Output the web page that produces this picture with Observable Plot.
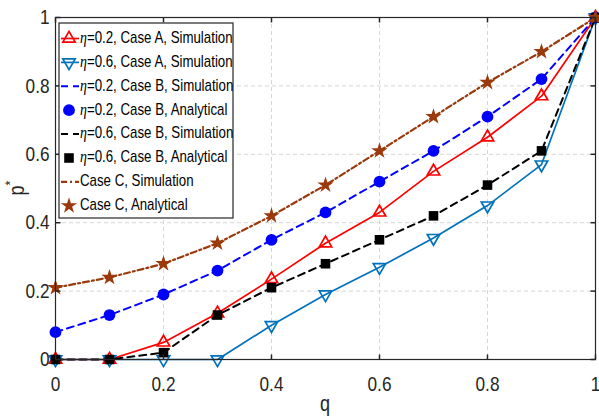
<!DOCTYPE html>
<html><head><meta charset="utf-8">
<script src="https://cdn.jsdelivr.net/npm/d3@7"></script>
<script src="https://cdn.jsdelivr.net/npm/@observablehq/plot@0.6"></script>
<style>
html,body{margin:0;padding:0;background:#fff;}
#chart svg{font-family:"Liberation Sans",Arial,sans-serif;}
</style></head><body><div id="chart"></div>
<script>
const q = [0, 0.1, 0.2, 0.3, 0.4, 0.5, 0.6, 0.7, 0.8, 0.9, 1];
const caseA_eta02_sim = [0, 0, 0.05, 0.135, 0.235, 0.34, 0.43, 0.55, 0.65, 0.77, 1];
const caseA_eta06_sim = [0, 0, 0, 0, 0.10, 0.19, 0.27, 0.355, 0.45, 0.57, 1];
const caseB_eta02_sim = [0.08, 0.13, 0.19, 0.26, 0.35, 0.43, 0.52, 0.61, 0.71, 0.82, 1];
const caseB_eta02_ana = [0.08, 0.13, 0.19, 0.26, 0.35, 0.43, 0.52, 0.61, 0.71, 0.82, 1];
const caseB_eta06_sim = [0, 0, 0.02, 0.13, 0.21, 0.28, 0.35, 0.42, 0.51, 0.61, 1];
const caseB_eta06_ana = [0, 0, 0.02, 0.13, 0.21, 0.28, 0.35, 0.42, 0.51, 0.61, 1];
const caseC_sim = [0.21, 0.24, 0.28, 0.34, 0.42, 0.51, 0.61, 0.71, 0.81, 0.90, 1];
const caseC_ana = [0.21, 0.24, 0.28, 0.34, 0.42, 0.51, 0.61, 0.71, 0.81, 0.90, 1];
const legendLabels = [
  ["η", "=0.2, Case A, Simulation"],
  ["η", "=0.6, Case A, Simulation"],
  ["η", "=0.2, Case B, Simulation"],
  ["η", "=0.2, Case B, Analytical"],
  ["η", "=0.6, Case B, Simulation"],
  ["η", "=0.6, Case B, Analytical"],
  ["", "Case C, Simulation"],
  ["", "Case C, Analytical"]
];
const ticks = [0, 0.2, 0.4, 0.6, 0.8, 1];
const tickLabels = ["0", "0.2", "0.4", "0.6", "0.8", "1"];
const gridTicks = [0.2, 0.4, 0.6, 0.8];
const xLabel = "q";
const yLabel = "p";

const rows = ys => q.map((x, i) => ({q: x, p: ys[i]}));

const RED = "#ff0000", STEEL = "#0072bd", BLUE = "#0000ff", BLACK = "#000000", BROWN = "#9a3a0c";

const series = [
  {data: rows(caseA_eta02_sim), line: true, stroke: RED, width: 1.7, dash: null, symbol: "triangle", r: 4.6, fill: "none", rotate: 0},
  {data: rows(caseA_eta06_sim), line: true, stroke: STEEL, width: 1.7, dash: null, symbol: "triangle", r: 4.6, fill: "none", rotate: 180},
  {data: rows(caseB_eta02_sim), line: true, stroke: BLUE, width: 2, dash: "7,5", symbol: null},
  {data: rows(caseB_eta02_ana), line: false, stroke: BLUE, symbol: "circle", r: 5.9, fill: BLUE},
  {data: rows(caseB_eta06_sim), line: true, stroke: BLACK, width: 2, dash: "7,5", symbol: null},
  {data: rows(caseB_eta06_ana), line: false, stroke: BLACK, symbol: "square", r: 5.4, fill: BLACK},
  {data: rows(caseC_sim), line: true, stroke: BROWN, width: 2.2, dash: "6,3,2,3", symbol: null},
  {data: rows(caseC_ana), line: false, stroke: BROWN, symbol: "star", r: 5.1, fill: BROWN}
];

const tickUp = {draw(c){ c.moveTo(0, 0); c.lineTo(0, -5); }};
const tickDown = {draw(c){ c.moveTo(0, 0); c.lineTo(0, 5); }};
const tickRight = {draw(c){ c.moveTo(0, 0); c.lineTo(5, 0); }};
const tickLeft = {draw(c){ c.moveTo(0, 0); c.lineTo(-5, 0); }};

const marks = [
  Plot.ruleX(gridTicks, {stroke: "#d6d6d6", strokeDasharray: "4,3", strokeWidth: 1}),
  Plot.ruleY(gridTicks, {stroke: "#d6d6d6", strokeDasharray: "4,3", strokeWidth: 1})
];
for (const s of series) {
  if (s.line) marks.push(Plot.line(s.data, {x: "q", y: "p", stroke: s.stroke, strokeWidth: s.width, strokeDasharray: s.dash}));
  if (s.symbol) marks.push(Plot.dot(s.data, {x: "q", y: "p", symbol: s.symbol, r: s.r, fill: s.fill, stroke: s.fill === "none" ? s.stroke : "none", strokeWidth: 1.7, rotate: s.rotate || 0}));
}
marks.push(
  Plot.frame({stroke: "#262626", strokeWidth: 1.2}),
  Plot.dot(ticks, {x: d => d, y: () => 0, symbol: tickUp, stroke: "#262626", r: 3}),
  Plot.dot(ticks, {x: d => d, y: () => 1, symbol: tickDown, stroke: "#262626", r: 3}),
  Plot.dot(ticks, {x: () => 0, y: d => d, symbol: tickRight, stroke: "#262626", r: 3}),
  Plot.dot(ticks, {x: () => 1, y: d => d, symbol: tickLeft, stroke: "#262626", r: 3}),
  Plot.axisX({ticks, tickSize: 0, tickPadding: 17, tickFormat: d => tickLabels[ticks.indexOf(d)], fontSize: 21, label: null, fill: "#262626"}),
  Plot.axisY({ticks, tickSize: 0, tickPadding: 6, tickFormat: d => tickLabels[ticks.indexOf(d)], fontSize: 21, label: null, fill: "#262626"})
);

const W = 599, H = 419, ML = 55, MR = 4, MT = 17, MB = 60;
const chart = Plot.plot({
  width: W, height: H,
  marginLeft: ML, marginRight: MR, marginTop: MT, marginBottom: MB,
  x: {domain: [0, 1]},
  y: {domain: [0, 1]},
  style: {fontFamily: '"Liberation Sans",Arial,sans-serif', background: "#fff"},
  marks
});
document.getElementById("chart").appendChild(chart);

const NARROW = 0.82;
function narrow(el) {
  const x = parseFloat(el.getAttribute("x")) || 0;
  const t = el.getAttribute("transform") || "";
  el.setAttribute("transform", `${t} translate(${x},0) scale(${NARROW},1) translate(${-x},0)`);
}
chart.querySelectorAll('g[aria-label="x-axis tick label"] text, g[aria-label="y-axis tick label"] text').forEach(narrow);

const svg = d3.select(chart);
const xs = chart.scale("x"), ys = chart.scale("y");

svg.append("text").attr("transform", `translate(${(xs.apply(0) + xs.apply(1)) / 2},405) scale(${NARROW},1)`)
  .attr("text-anchor", "middle").attr("dominant-baseline", "middle")
  .attr("font-size", 22).attr("fill", "#262626").text(xLabel);
const yl = svg.append("text").attr("transform", `translate(24,${(ys.apply(0) + ys.apply(1)) / 2}) rotate(-90) scale(${NARROW},1)`)
  .attr("text-anchor", "middle").attr("font-size", 22).attr("fill", "#262626");
yl.append("tspan").text(yLabel);
yl.append("tspan").attr("dy", -9).attr("font-size", 15).text("*");

const lx = 59, ly = 23, lw = 174, lh = 195, rowH = 23.9, row0 = 38.5;
const lg = svg.append("g").attr("text-anchor", "start");
lg.append("rect").attr("x", lx).attr("y", ly).attr("width", lw).attr("height", lh)
  .attr("fill", "#fff").attr("stroke", "#262626").attr("stroke-width", 1.2);
series.forEach((s, i) => {
  const y = row0 + i * rowH;
  if (s.line) {
    lg.append("line").attr("x1", 61).attr("x2", 79).attr("y1", y).attr("y2", y)
      .attr("stroke", s.stroke).attr("stroke-width", s.width).attr("stroke-dasharray", s.dash);
  }
  if (s.symbol) {
    const sym = {triangle: d3.symbolTriangle, circle: d3.symbolCircle, square: d3.symbolSquare, star: d3.symbolStar}[s.symbol];
    lg.append("path").attr("d", d3.symbol(sym, Math.PI * s.r * s.r)())
      .attr("transform", `translate(69,${y}) rotate(${s.rotate || 0})`)
      .attr("fill", s.fill).attr("stroke", s.fill === "none" ? s.stroke : "none").attr("stroke-width", 1.7);
  }
  const t = lg.append("text").attr("transform", `translate(80,${y}) scale(${NARROW},1)`).attr("dominant-baseline", "middle")
    .attr("text-anchor", "start").attr("font-size", 16.2).attr("fill", "#000");
  if (legendLabels[i][0]) t.append("tspan").attr("font-style", "italic").attr("font-family", "'Liberation Serif',serif").attr("font-size", 17).text(legendLabels[i][0]);
  t.append("tspan").text(legendLabels[i][1]);
});
</script></body></html>
